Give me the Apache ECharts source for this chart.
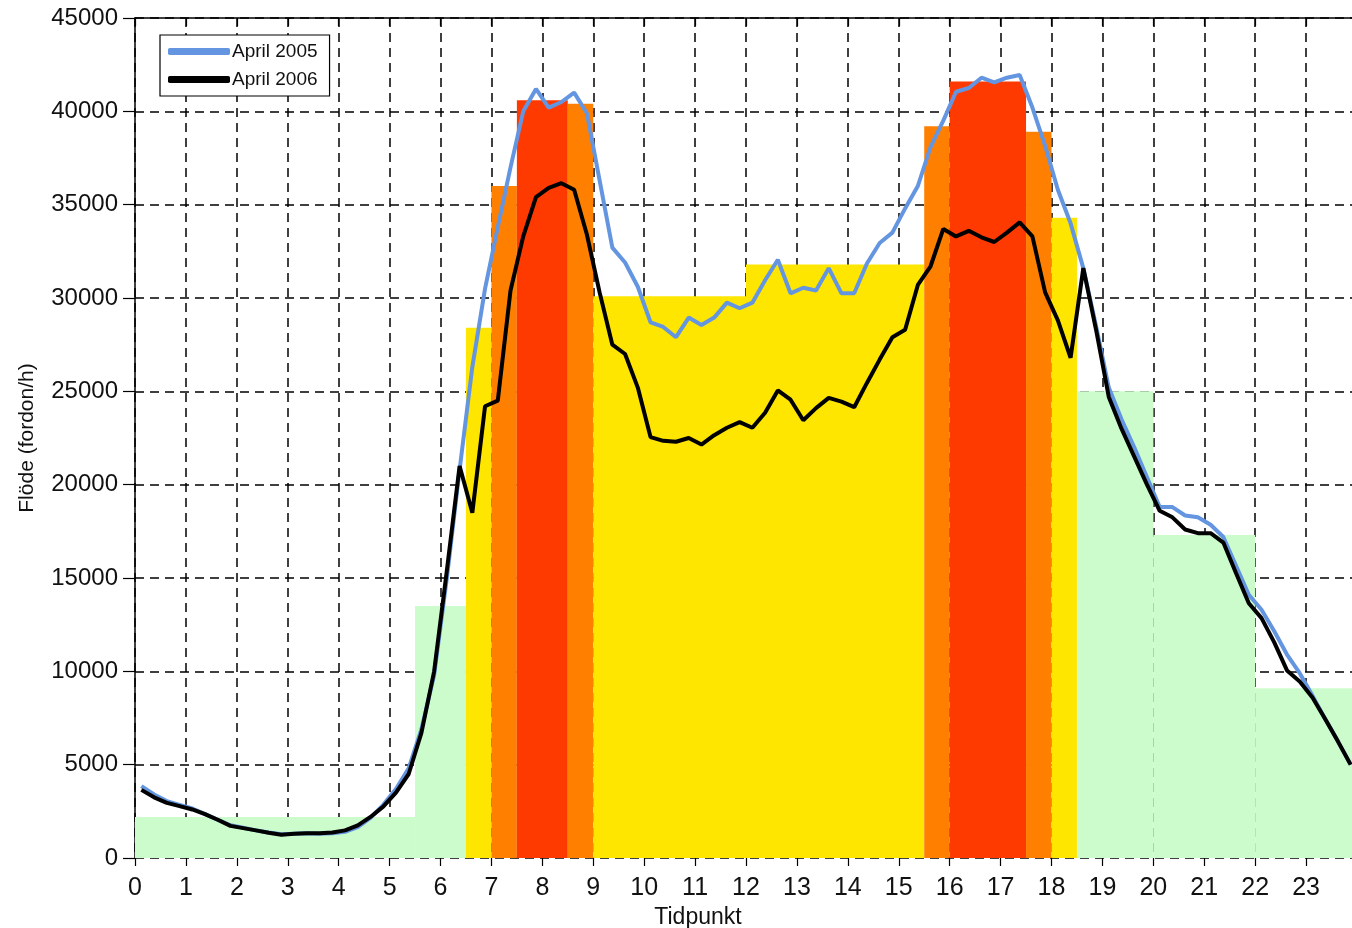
<!DOCTYPE html>
<html>
<head>
<meta charset="utf-8">
<title>Flöde april 2005 / 2006</title>
<script src="https://cdn.jsdelivr.net/npm/echarts@6/dist/echarts.min.js"></script>
<style>
  html, body { margin: 0; padding: 0; background: #fff; }
  #chart { width: 1352px; height: 928px; }
</style>
</head>
<body>
<div id="chart"></div>
<script>
// kvartsvärden, mittpunkt i varje 15-minutersintervall (96 st)
const sampleTimes = Array.from({ length: 96 }, (_, i) => 0.125 + i * 0.25);

// April 2005 (blå)
const april2005 = [
  3850, 3400, 3050, 2850,
  2650, 2350, 2050, 1750,
  1620, 1480, 1370, 1270,
  1300, 1320, 1300, 1320,
  1400, 1650, 2150, 2850,
  3700, 4800, 6900, 9800,
  15000, 20800, 26300, 30500,
  33800, 37000, 40000, 41200,
  40200, 40500, 41000, 39900,
  36300, 32700, 31900, 30600,
  28700, 28450, 27900, 28950,
  28550, 28950, 29750, 29450,
  29750, 30950, 32050, 30250,
  30550, 30400, 31600, 30250,
  30250, 31850, 32950, 33500,
  34800, 36000, 38100, 39500,
  41050, 41250, 41800, 41550,
  41800, 41950, 40200, 38150,
  35800, 34000, 31600, 28500,
  25200, 23500, 22000, 20400,
  18800, 18800, 18350, 18250,
  17850, 17200, 15650, 14100,
  13300, 12150, 10900, 9900,
  8700, 7450, 6250, 5000
];

// April 2006 (svart)
const april2006 = [
  3650, 3250, 2950, 2780,
  2600, 2350, 2050, 1720,
  1600, 1480, 1350, 1250,
  1300, 1320, 1320, 1370,
  1480, 1750, 2200, 2750,
  3500, 4500, 6700, 10000,
  15400, 21000, 18500, 24200,
  24500, 30400, 33300, 35400,
  35900, 36150, 35800, 33400,
  30300, 27500, 27000, 25200,
  22550, 22350, 22300, 22500,
  22150, 22650, 23050, 23350,
  23050, 23850, 25050, 24550,
  23450, 24100, 24650, 24450,
  24150, 25450, 26700, 27900,
  28300, 30700, 31700, 33700,
  33300, 33600, 33250, 33000,
  33500, 34050, 33300, 30300,
  28800, 26800, 31600, 28300,
  24700, 23000, 21500, 20000,
  18600, 18250, 17600, 17400,
  17400, 16900, 15250, 13650,
  12850, 11550, 10050, 9450,
  8600, 7450, 6250, 5000
];

// bakgrundens trappsteg (flödesnivåer)
const bandStart = [0, 5.5, 6.5, 7, 7.5, 8.5, 9, 12, 15.5, 16, 17.5, 18, 18.5, 20, 22];
const bandEnd   = [5.5, 6.5, 7, 7.5, 8.5, 9, 12, 15.5, 16, 17.5, 18, 18.5, 20, 22, 24];
const bandFlow  = [2200, 13500, 28400, 36000, 40600, 40400, 30100, 31800, 39200, 41600, 38900, 34300, 25000, 17300, 9100];
const bandLevel = ['low', 'low', 'mid', 'high', 'peak', 'high', 'mid', 'mid', 'high', 'peak', 'high', 'mid', 'low', 'low', 'low'];

const hourTicks = [0, 1, 2, 3, 4, 5, 6, 7, 8, 9, 10, 11, 12, 13, 14, 15, 16, 17, 18, 19, 20, 21, 22, 23];

const levelColors = {
  low: '#ccfccc',
  mid: '#ffe600',
  high: '#ff8000',
  peak: '#ff3a00'
};

const FONT = 'Liberation Sans, Arial, sans-serif';

const chart = echarts.init(document.getElementById('chart'));

const bandData = bandStart.map((s, i) => [s, bandEnd[i], bandFlow[i], bandLevel[i]]);

const option = {
  backgroundColor: '#fff',
  animation: false,
  textStyle: { fontFamily: FONT },
  grid: { left: 135, top: 18, right: -5, bottom: 70, outerBoundsMode: 'none', containLabel: false },
  legend: {
    orient: 'vertical',
    left: 160,
    top: 35,
    padding: [7, 12, 7, 8],
    itemGap: 9,
    itemWidth: 62,
    itemHeight: 7,
    icon: 'roundRect',
    backgroundColor: '#fff',
    borderColor: '#000',
    borderWidth: 1.2,
    borderRadius: 0,
    textStyle: { fontSize: 19, color: '#111', fontFamily: FONT, padding: [0, 0, 0, -3] },
    data: ['April 2005', 'April 2006']
  },
  xAxis: [
    {
      type: 'value',
      min: 0,
      max: 24,
      interval: 1,
      offset: 6,
      name: 'Tidpunkt',
      nameLocation: 'middle',
      nameGap: 42,
      nameTextStyle: { fontSize: 23, color: '#111', fontFamily: FONT, padding: [0, 96, 0, 0] },
      axisLine: { show: false },
      axisTick: { show: true, length: 8, lineStyle: { color: '#000', width: 1.2 } },
      axisLabel: {
        fontSize: 25,
        color: '#111',
        margin: 12,
        fontFamily: FONT,
        formatter: v => (hourTicks.indexOf(v) >= 0 ? String(v) : '')
      },
      splitLine: {
        show: true,
        lineStyle: { color: '#000', width: 1.5, type: [9, 6] }
      }
    },
    {
      type: 'value',
      position: 'top',
      min: 0,
      max: 24,
      interval: 1,
      axisLine: { show: true, lineStyle: { color: '#000', width: 1.5 } },
      axisTick: { show: true, inside: true, length: 8, lineStyle: { color: '#000', width: 1.2 } },
      axisLabel: { show: false },
      splitLine: { show: false }
    }
  ],
  yAxis: {
    type: 'value',
    min: 0,
    max: 45000,
    interval: 5000,
    name: 'Flöde (fordon/h)',
    nameLocation: 'middle',
    nameGap: 97,
    nameTextStyle: { fontSize: 21, color: '#111', fontFamily: FONT },
    axisLine: { show: true, lineStyle: { color: '#000', width: 1.5 } },
    axisTick: { show: true, length: 12, lineStyle: { color: '#000', width: 1.2 } },
    axisLabel: { fontSize: 24, color: '#111', margin: 17, fontFamily: FONT, formatter: v => String(v) },
    splitLine: {
      show: true,
      lineStyle: { color: '#000', width: 1.5, type: [9, 6] }
    }
  },
  series: [
    {
      name: 'nivåer',
      type: 'custom',
      z: 1,
      clip: true,
      silent: true,
      encode: { x: [0, 1], y: 2 },
      data: bandData,
      renderItem: function (params, api) {
        const topLeft = api.coord([api.value(0), api.value(2)]);
        const bottomRight = api.coord([api.value(1), 0]);
        const level = bandLevel[params.dataIndex];
        return {
          type: 'rect',
          shape: {
            x: topLeft[0],
            y: topLeft[1],
            width: bottomRight[0] - topLeft[0],
            height: bottomRight[1] - topLeft[1]
          },
          style: { fill: levelColors[level] }
        };
      }
    },
    {
      name: 'April 2005',
      type: 'line',
      z: 3,
      symbol: 'none',
      itemStyle: { color: '#6495e0' },
      lineStyle: { color: '#6495e0', width: 4 },
      data: sampleTimes.map((t, i) => [t, april2005[i]])
    },
    {
      name: 'April 2006',
      type: 'line',
      z: 4,
      symbol: 'none',
      itemStyle: { color: '#000' },
      lineStyle: { color: '#000', width: 4 },
      data: sampleTimes.map((t, i) => [t, april2006[i]])
    }
  ]
};

chart.setOption(option);
</script>
</body>
</html>
